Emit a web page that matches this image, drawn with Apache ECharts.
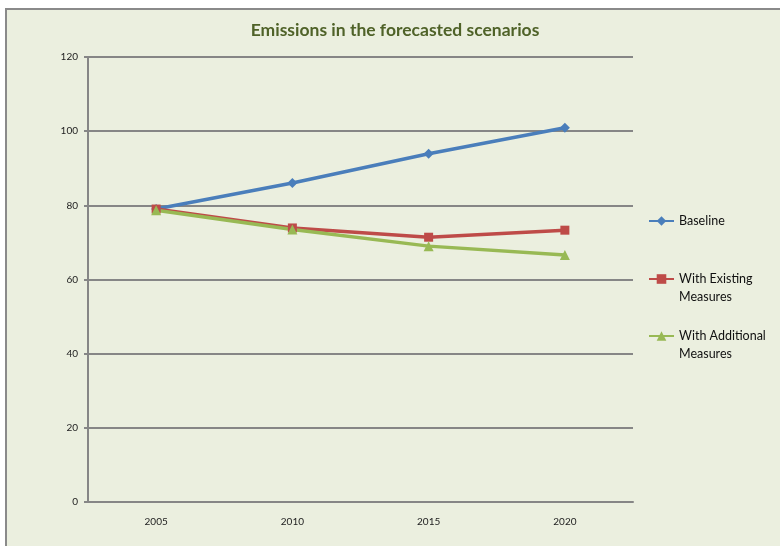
<!DOCTYPE html>
<html>
<head>
<meta charset="utf-8">
<script src="https://cdn.jsdelivr.net/npm/echarts@6/dist/echarts.min.js"></script>
<style>
  body { margin: 0; background: #ffffff; }
  #frame {
    position: absolute; left: 5px; top: 8px; width: 790px; height: 550px;
    background: #ebefdf; border: 2px solid #8a8a8a; box-sizing: border-box;
  }
  #chart { position: absolute; left: 0; top: 0; width: 780px; height: 546px; }
</style>
</head>
<body>
<div id="frame"></div>
<div id="chart"></div>
<script>
  var years = ['2005', '2010', '2015', '2020'];
  var baseline = [79.0, 86.0, 93.9, 100.9];
  var withExisting = [79.0, 73.9, 71.4, 73.3];
  var withAdditional = [78.7, 73.5, 69.0, 66.6];
  var yTicks = { min: 0, max: 120, interval: 20 };
  var names = ['Baseline', 'With Existing\nMeasures', 'With Additional\nMeasures'];

  var myChart = echarts.init(document.getElementById('chart'));
  var fontFam = 'Lato, "Open Sans", sans-serif';

  // one legend per entry so the icon sits on the first text line, like Excel
  function legendFor(name, top) {
    return {
      orient: 'vertical',
      left: 648,
      top: top,
      padding: 0,
      itemWidth: 25,
      itemHeight: 12,
      data: [name],
      formatter: function (n) { return n.indexOf('\n') >= 0 ? '\n' + n : n; },
      textStyle: { fontSize: 12.5, color: '#111', fontFamily: fontFam, lineHeight: 18 }
    };
  }

  myChart.setOption({
    backgroundColor: 'transparent',
    title: {
      text: 'Emissions in the forecasted scenarios',
      left: 390,
      textAlign: 'center',
      top: 16,
      textStyle: { color: '#4f6228', fontSize: 17.5, fontWeight: 'bold', fontFamily: fontFam }
    },
    legend: [
      legendFor(names[0], 212),
      legendFor(names[1], 252),
      legendFor(names[2], 309)
    ],
    grid: { left: 88, right: 147, top: 57, bottom: 44 },
    xAxis: {
      type: 'category',
      data: years,
      boundaryGap: true,
      axisLine: { lineStyle: { color: '#868686', width: 2 } },
      axisTick: { show: false },
      axisLabel: { fontSize: 10, color: '#222', margin: 15, fontFamily: fontFam }
    },
    yAxis: {
      type: 'value',
      min: yTicks.min,
      max: yTicks.max,
      interval: yTicks.interval,
      axisLine: { show: true, lineStyle: { color: '#868686', width: 2 } },
      axisTick: { show: true, length: 4, lineStyle: { color: '#868686', width: 2 } },
      axisLabel: { fontSize: 10, color: '#222', margin: 10, fontFamily: fontFam },
      splitLine: { lineStyle: { color: '#868686', width: 2 } }
    },
    series: [
      {
        name: names[0], type: 'line', data: baseline,
        symbol: 'diamond', symbolSize: 10,
        lineStyle: { color: '#4a7ebb', width: 3.5 },
        itemStyle: { color: '#4a7ebb' }
      },
      {
        name: names[1], type: 'line', data: withExisting,
        symbol: 'rect', symbolSize: 9,
        lineStyle: { color: '#be4b48', width: 3.5 },
        itemStyle: { color: '#be4b48' }
      },
      {
        name: names[2], type: 'line', data: withAdditional,
        symbol: 'triangle', symbolSize: 10,
        lineStyle: { color: '#98b954', width: 3.5 },
        itemStyle: { color: '#98b954' }
      }
    ]
  });
</script>
</body>
</html>
